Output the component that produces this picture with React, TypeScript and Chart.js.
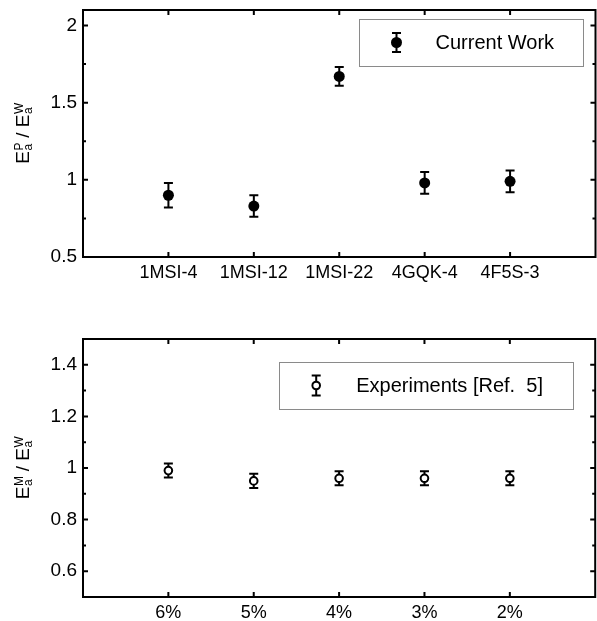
import React, { useEffect, useRef } from 'react';
import { Chart, registerables } from 'chart.js';

Chart.register(...registerables);

const FONT = "'Liberation Sans', Arial, Helvetica, sans-serif";

// ---- Top panel data ----
const topCategories = ['1MSI-4', '1MSI-12', '1MSI-22', '4GQK-4', '4F5S-3'];
const topValues = [0.9, 0.83, 1.67, 0.98, 0.99];
const topErrors = [0.08, 0.07, 0.06, 0.07, 0.07];
const topYTicks = [0.5, 1, 1.5, 2];
const topYMinorTicks = [0.75, 1.25, 1.75];
const topLabel = 'Current Work';

// ---- Bottom panel data ----
const bottomCategories = ['6%', '5%', '4%', '3%', '2%'];
const bottomValues = [0.99, 0.95, 0.96, 0.96, 0.96];
const bottomErrors = [0.027, 0.028, 0.027, 0.027, 0.027];
const bottomYTicks = [0.6, 0.8, 1, 1.2, 1.4];
const bottomYMinorTicks = [0.7, 0.9, 1.1, 1.3];
const bottomLabel = 'Experiments [Ref.  5]';

const framePlugin = {
  id: 'frame',
  beforeDatasetsDraw(chart: any, _args: any, o: any) {
    const { ctx, scales } = chart;
    const x = scales.x;
    const y = scales.y;
    ctx.save();
    ctx.strokeStyle = '#000';
    ctx.lineWidth = 2;
    chart.data.datasets.forEach((ds: any) => {
      ds.data.forEach((p: any, i: number) => {
        const e = ds.errors[i];
        const px = x.getPixelForValue(p.x);
        const yt = y.getPixelForValue(p.y + e);
        const yb = y.getPixelForValue(p.y - e);
        const cw = o.capHalf;
        ctx.beginPath();
        ctx.moveTo(px, yt);
        ctx.lineTo(px, yb);
        ctx.moveTo(px - cw, yt);
        ctx.lineTo(px + cw, yt);
        ctx.moveTo(px - cw, yb);
        ctx.lineTo(px + cw, yb);
        ctx.stroke();
      });
    });
    ctx.restore();
  },
  afterDraw(chart: any, _args: any, o: any) {
    const { ctx, chartArea: ca, scales } = chart;
    const x = scales.x;
    const y = scales.y;
    ctx.save();
    ctx.strokeStyle = '#000';
    ctx.lineWidth = 2;
    ctx.strokeRect(ca.left, ca.top, ca.right - ca.left, ca.bottom - ca.top);
    ctx.beginPath();
    x.ticks.forEach((t: any) => {
      const px = x.getPixelForValue(t.value);
      ctx.moveTo(px, ca.bottom);
      ctx.lineTo(px, ca.bottom - 5);
      ctx.moveTo(px, ca.top);
      ctx.lineTo(px, ca.top + 5);
    });
    o.majorY.forEach((v: number) => {
      const py = y.getPixelForValue(v);
      ctx.moveTo(ca.left, py);
      ctx.lineTo(ca.left + 5, py);
      ctx.moveTo(ca.right, py);
      ctx.lineTo(ca.right - 5, py);
    });
    o.minorY.forEach((v: number) => {
      const py = y.getPixelForValue(v);
      ctx.moveTo(ca.left, py);
      ctx.lineTo(ca.left + 3, py);
      ctx.moveTo(ca.right, py);
      ctx.lineTo(ca.right - 3, py);
    });
    ctx.stroke();

    // legend
    const lg = o.legend;
    const lx = ca.right - lg.rightInset - lg.width;
    const ly = ca.top + lg.topInset;
    ctx.lineWidth = 1;
    ctx.strokeStyle = '#8a8a8a';
    ctx.strokeRect(Math.round(lx) + 0.5, Math.round(ly) + 0.5, lg.width, lg.height);
    const ds = chart.data.datasets[0];
    const mx = lx + lg.markerDx;
    const my = ly + lg.height / 2;
    ctx.strokeStyle = '#000';
    ctx.lineWidth = 2;
    ctx.beginPath();
    ctx.moveTo(mx, my - lg.barHalf);
    ctx.lineTo(mx, my + lg.barHalf);
    ctx.moveTo(mx - o.capHalf, my - lg.barHalf);
    ctx.lineTo(mx + o.capHalf, my - lg.barHalf);
    ctx.moveTo(mx - o.capHalf, my + lg.barHalf);
    ctx.lineTo(mx + o.capHalf, my + lg.barHalf);
    ctx.stroke();
    ctx.beginPath();
    ctx.arc(mx, my, ds.pointRadius, 0, Math.PI * 2);
    ctx.fillStyle = ds.pointBackgroundColor;
    ctx.fill();
    if (ds.pointBorderWidth > 0) {
      ctx.lineWidth = ds.pointBorderWidth;
      ctx.stroke();
    }
    ctx.fillStyle = '#000';
    ctx.font = `20px ${FONT}`;
    ctx.textAlign = 'left';
    ctx.textBaseline = 'middle';
    ctx.fillText(ds.label, lx + lg.textDx, my + 1);

    // y-axis title with sub/superscripts
    const big = 19;
    const small = 12;
    const parts: any[] = [
      { t: 'E' },
      { sub: 'a', sup: o.titleSup1 },
      { t: ' / ' },
      { t: 'E' },
      { sub: 'a', sup: 'W' },
    ];
    const widths = parts.map((p) => {
      if (p.t) {
        ctx.font = `${big}px ${FONT}`;
        return ctx.measureText(p.t).width;
      }
      ctx.font = `${small}px ${FONT}`;
      return Math.max(ctx.measureText(p.sub).width, ctx.measureText(p.sup).width);
    });
    const total = widths.reduce((a, b) => a + b, 0);
    const cy = (ca.top + ca.bottom) / 2;
    ctx.translate(29, cy);
    ctx.rotate(-Math.PI / 2);
    ctx.textBaseline = 'alphabetic';
    ctx.textAlign = 'left';
    let cx = -total / 2;
    parts.forEach((p, i) => {
      if (p.t) {
        ctx.font = `${big}px ${FONT}`;
        ctx.fillText(p.t, cx, 0);
      } else {
        ctx.font = `${small}px ${FONT}`;
        ctx.fillText(p.sup, cx + 0.5, -6);
        ctx.fillText(p.sub, cx + 0.5, 3);
      }
      cx += widths[i];
    });
    ctx.restore();
  },
};

const hiddenGrid = (len: number) => ({
  display: true,
  drawOnChartArea: false,
  drawTicks: true,
  tickLength: len,
  color: 'rgba(0,0,0,0)',
});

function makeChart(canvas: HTMLCanvasElement, cfg: any) {
  return new Chart(canvas, {
    type: 'scatter',
    data: {
      datasets: [
        {
          label: cfg.label,
          data: cfg.values.map((v: number, i: number) => ({ x: i + 1, y: v })),
          errors: cfg.errors,
          pointRadius: cfg.radius,
          pointHoverRadius: cfg.radius,
          pointBackgroundColor: cfg.fill,
          pointBorderColor: '#000',
          pointBorderWidth: cfg.borderWidth,
          showLine: false,
        } as any,
      ],
    },
    options: {
      responsive: false,
      animation: false,
      events: [],
      layout: { padding: { top: cfg.padTop, right: 1, left: 0, bottom: 0 } },
      plugins: {
        legend: { display: false },
        tooltip: { enabled: false },
        frame: {
          majorY: cfg.yTicks,
          minorY: cfg.yMinor,
          capHalf: 4.5,
          titleSup1: cfg.titleSup,
          legend: cfg.legend,
        },
      } as any,
      scales: {
        x: {
          type: 'linear',
          min: 0,
          max: 6,
          grid: hiddenGrid(7),
          border: { display: false },
          afterBuildTicks: (s: any) => {
            s.ticks = cfg.categories.map((_: string, i: number) => ({ value: i + 1 }));
          },
          ticks: {
            callback: (v: any) => cfg.categories[Math.round(v) - 1] ?? '',
            padding: 0,
            color: '#000',
            font: { family: FONT, size: 18, lineHeight: 1 },
            maxRotation: 0,
            autoSkip: false,
          },
          afterFit: (s: any) => {
            s.height = cfg.xHeight;
            s.paddingLeft = 0;
            s.paddingRight = 0;
          },
        },
        y: {
          type: 'linear',
          min: cfg.yMin,
          max: cfg.yMax,
          grid: hiddenGrid(6),
          border: { display: false },
          afterBuildTicks: (s: any) => {
            s.ticks = cfg.yTicks.map((v: number) => ({ value: v }));
          },
          ticks: {
            callback: (v: any) => String(Math.round(v * 100) / 100),
            padding: 0,
            color: '#000',
            font: { family: FONT, size: 19, lineHeight: 1 },
          },
          afterFit: (s: any) => {
            s.width = 83;
            s.paddingTop = 0;
            s.paddingBottom = 0;
          },
        },
      },
    },
    plugins: [framePlugin],
  } as any);
}

export default function App() {
  const topRef = useRef<HTMLCanvasElement>(null);
  const botRef = useRef<HTMLCanvasElement>(null);

  useEffect(() => {
    const c1 = makeChart(topRef.current!, {
      label: topLabel,
      categories: topCategories,
      values: topValues,
      errors: topErrors,
      yTicks: topYTicks,
      yMinor: topYMinorTicks,
      yMin: 0.5,
      yMax: 2.1,
      radius: 5.5,
      fill: '#000',
      borderWidth: 0,
      padTop: 10,
      xHeight: 43,
      titleSup: 'P',
      legend: { rightInset: 13, topInset: 9, width: 224, height: 47, markerDx: 38, textDx: 77, barHalf: 9.5 },
    });
    const c2 = makeChart(botRef.current!, {
      label: bottomLabel,
      categories: bottomCategories,
      values: bottomValues,
      errors: bottomErrors,
      yTicks: bottomYTicks,
      yMinor: bottomYMinorTicks,
      yMin: 0.5,
      yMax: 1.5,
      radius: 3.8,
      fill: '#fff',
      borderWidth: 2,
      padTop: 39,
      xHeight: 24,
      titleSup: 'M',
      legend: { rightInset: 22, topInset: 23, width: 294, height: 47, markerDx: 37, textDx: 77, barHalf: 10 },
    });
    return () => {
      c1.destroy();
      c2.destroy();
    };
  }, []);

  return (
    <div style={{ position: 'fixed', left: 0, top: 0, width: 597, height: 621, background: '#fff', overflow: 'hidden' }}>
      <canvas ref={topRef} width={601} height={300} style={{ position: 'absolute', left: 0, top: 0, display: 'block' }} />
      <canvas ref={botRef} width={601} height={321} style={{ position: 'absolute', left: 0, top: 300, display: 'block' }} />
    </div>
  );
}
